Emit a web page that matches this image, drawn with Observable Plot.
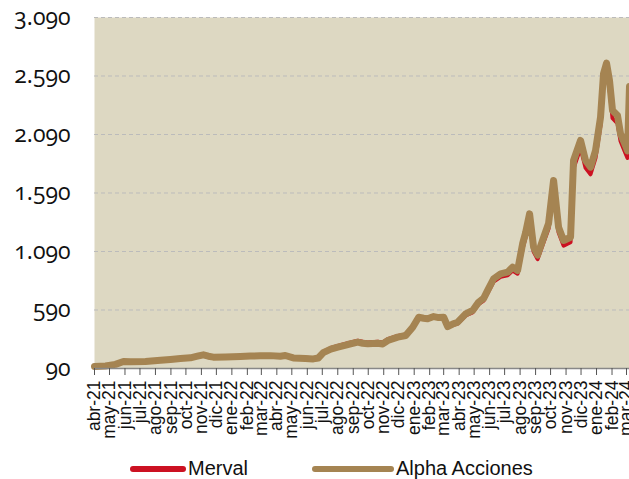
<!DOCTYPE html>
<html>
<head>
<meta charset="utf-8">
<script src="https://cdn.jsdelivr.net/npm/d3@7"></script>
<script src="https://cdn.jsdelivr.net/npm/@observablehq/plot@0.6"></script>
<style>
  body { margin: 0; background: #fff; width: 629px; height: 479px; overflow: hidden; position: relative; }
  #chart { position: absolute; left: 0; top: 0; }
  .leg { position: absolute; font-family: "Liberation Sans", Arial, sans-serif; font-size: 20px; color: #111; }
  .sw { position: absolute; height: 6px; border-radius: 3px; }
  g[aria-label="y-axis tick label"] text { font-family: "Open Sans", "Lato", sans-serif; font-feature-settings: "onum" 1; font-variant-numeric: oldstyle-nums; }
</style>
</head>
<body>
<div id="chart"></div>
<div class="sw" style="left:130px; top:466px; width:56px; background:#CC1122;"></div>
<div class="leg" style="left:188px; top:457px;">Merval</div>
<div class="sw" style="left:312px; top:466px; width:82px; background:#A58452;"></div>
<div class="leg" style="left:396px; top:457px;">Alpha Acciones</div>
<script>
const dates = ["2021-04-01","2021-04-23","2021-05-13","2021-05-29","2021-06-12","2021-07-12","2021-08-11","2021-08-31","2021-09-20","2021-10-10","2021-10-24","2021-11-05","2021-11-15","2021-11-25","2021-12-19","2022-01-18","2022-02-07","2022-02-27","2022-03-19","2022-04-08","2022-04-18","2022-05-04","2022-05-28","2022-06-13","2022-06-23","2022-07-03","2022-07-18","2022-08-01","2022-08-21","2022-09-10","2022-09-20","2022-09-30","2022-10-20","2022-10-30","2022-11-09","2022-11-29","2022-12-15","2022-12-29","2023-01-10","2023-01-20","2023-01-28","2023-02-09","2023-02-19","2023-03-01","2023-03-09","2023-03-19","2023-03-29","2023-04-14","2023-04-28","2023-05-10","2023-05-20","2023-05-28","2023-06-09","2023-06-23","2023-07-07","2023-07-17","2023-07-27","2023-08-06","2023-08-12","2023-08-20","2023-08-28","2023-09-05","2023-09-15","2023-09-27","2023-10-07","2023-10-17","2023-10-27","2023-11-10","2023-11-16","2023-11-30","2023-12-10","2023-12-20","2023-12-30","2024-01-09","2024-01-15","2024-01-21","2024-01-27","2024-02-02","2024-02-12","2024-02-18","2024-02-28","2024-03-03","2024-03-07"];
const alpha = [108,112,125,150,147,150,160,167,175,181,195,207,195,187,188,192,196,198,200,195,201,180,175,172,180,225,255,272,295,315,305,301,306,300,329,358,372,443,528,520,515,534,525,528,449,470,486,557,586,657,690,757,857,899,913,956,928,1156,1250,1412,1127,1060,1184,1330,1697,1298,1184,1212,1868,2039,1868,1811,1953,2238,2609,2700,2550,2295,2252,2098,1995,1950,2500];
const merval = [105,110,122,146,144,148,158,165,173,180,193,204,193,186,188,193,198,200,203,199,205,186,181,178,187,233,265,283,307,327,318,313,318,312,340,368,380,448,530,518,512,530,520,522,440,460,474,543,570,640,670,735,833,873,886,928,900,1115,1210,1370,1090,1025,1145,1285,1645,1255,1140,1170,1800,1975,1805,1750,1890,2170,2540,2640,2480,2230,2185,2035,1930,1890,2430];
const yTicks = [90,590,1090,1590,2090,2590,3090];
const yTickLabels = ["90","590","1.090","1.590","2.090","2.590","3.090"];
const monthLabels = ["abr-21","may-21","jun-21","jul-21","ago-21","sep-21","oct-21","nov-21","dic-21","ene-22","feb-22","mar-22","abr-22","may-22","jun-22","jul-22","ago-22","sep-22","oct-22","nov-22","dic-22","ene-23","feb-23","mar-23","abr-23","may-23","jun-23","jul-23","ago-23","sep-23","oct-23","nov-23","dic-23","ene-24","feb-24","mar-24"];
const seriesNames = ["Merval","Alpha Acciones"];

const parse = d3.utcParse("%Y-%m-%d");
const monthDates = monthLabels.map((_, i) => d3.utcMonth.offset(new Date(Date.UTC(2021, 3, 1)), i));
const dataM = dates.map((d, i) => ({date: parse(d), value: merval[i]}));
const dataA = dates.map((d, i) => ({date: parse(d), value: alpha[i]}));

const chart = Plot.plot({
  width: 629,
  height: 445,
  marginLeft: 94,
  marginRight: 0,
  marginTop: 17,
  marginBottom: 77,
  style: {background: "transparent", fontFamily: "Liberation Sans, Arial, sans-serif"},
  x: {type: "utc", domain: [parse("2021-04-01"), parse("2024-03-07")]},
  y: {domain: [90, 3090]},
  marks: [
    Plot.frame({fill: "#DDD8C2", stroke: null}),
    Plot.gridY(yTicks.slice(1), {stroke: "#BBBBBB", strokeOpacity: 1, strokeDasharray: "4,3", strokeWidth: 1}),
    Plot.line(dataM, {x: "date", y: "value", stroke: "#CC1122", strokeWidth: 4}),
    Plot.line(dataA, {x: "date", y: "value", stroke: "#A58452", strokeWidth: 7}),
    Plot.ruleY([90], {stroke: "#888", strokeWidth: 1.5}),
    Plot.axisY({ticks: yTicks, tickFormat: (d, i) => yTickLabels[i], tickSize: 0, tickPadding: 24, fontSize: 23, fill: "#111", label: null}),
    Plot.axisX({ticks: monthDates, tickFormat: (d, i) => monthLabels[i], tickSize: 7, tickPadding: 5, tickRotate: -90, fontSize: 17.5, fill: "#111", stroke: "#555", label: null})
  ]
});
document.getElementById("chart").appendChild(chart);
</script>
</body>
</html>
